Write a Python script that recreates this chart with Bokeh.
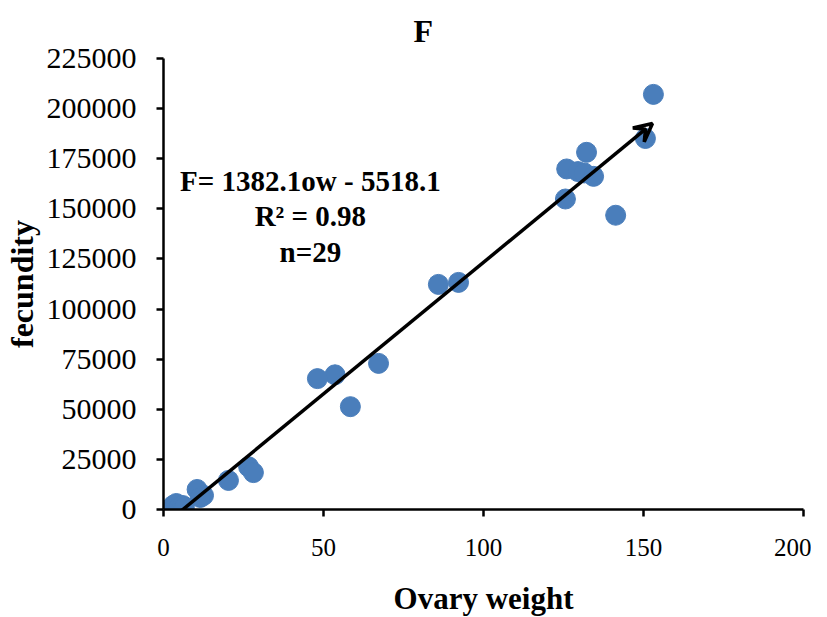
from bokeh.plotting import figure
from bokeh.models import Range1d, Arrow, VeeHead, Label, FixedTicker, NumeralTickFormatter
from bokeh.embed import file_html
from bokeh.resources import INLINE

# Data
ovary_weight = [153.1, 150.6, 132.2, 126.0, 129.5, 131.5, 134.4, 125.6, 141.3,
                92.2, 85.9, 67.2, 53.6, 48.1, 58.4, 26.6, 28.1, 20.3,
                10.5, 12.5, 11.5, 3.0, 3.5, 4.0, 4.5, 5.0, 5.5, 6.0, 6.5]
fecundity = [207100, 185100, 178200, 169900, 168600, 167900, 166200, 154900, 146800,
             113300, 112300, 72900, 67200, 65300, 51300, 21300, 18400, 14500,
             10000, 7000, 6000, 2000, 1000, 3000, 500, 1500, 800, 2000, 1200]
x_ticks = [0, 50, 100, 150, 200]
y_ticks = [0, 25000, 50000, 75000, 100000, 125000, 150000, 175000, 200000, 225000]
trend_x = [5.3, 152.8]
trend_y = [-1000, 192600]
eq_lines = ["F= 1382.1ow - 5518.1", "R\u00b2 = 0.98", "n=29"]

SERIF = "Liberation Serif"

p = figure(frame_width=640, frame_height=451, output_backend="svg", toolbar_location=None,
           x_range=Range1d(0, 200), y_range=Range1d(0, 225000),
           min_border_left=163, min_border_right=8, min_border_top=58,
           min_border_bottom=104)
p.outline_line_color = None
p.xgrid.visible = False
p.ygrid.visible = False

p.title.text = "F"
p.title.text_font = SERIF
p.title.text_font_size = "32px"
p.title.text_font_style = "bold"
p.title.text_color = "black"
p.title.align = "left"
p.title.offset = 250
p.title.standoff = 20

p.scatter(ovary_weight, fecundity, size=20, color="#4a7ebb", line_color="#4a7ebb")

p.add_layout(Arrow(end=VeeHead(size=18, line_width=3.5, line_color="black", fill_color=None),
                   x_start=trend_x[0], y_start=trend_y[0],
                   x_end=trend_x[1], y_end=trend_y[1],
                   line_width=3.5, line_color="black"))

eq_y = [163700, 146200, 128700]
for t, yy in zip(eq_lines, eq_y):
    p.add_layout(Label(x=45.9, y=yy, text=t, text_font=SERIF, text_font_size="29px",
                       text_font_style="bold", text_align="center",
                       text_baseline="middle", text_color="black"))

for ax in (p.xaxis[0], p.yaxis[0]):
    ax.axis_line_color = "black"
    ax.axis_line_width = 2.5
    ax.major_tick_line_color = "black"
    ax.major_tick_line_width = 2.5
    ax.major_tick_out = 7
    ax.major_tick_in = 0
    ax.minor_tick_line_color = None
    ax.major_label_text_font = SERIF
    ax.major_label_text_color = "black"
    ax.axis_label_text_font = SERIF
    ax.axis_label_text_font_style = "bold"
    ax.axis_label_text_color = "black"

p.xaxis.ticker = FixedTicker(ticks=x_ticks)
p.yaxis.ticker = FixedTicker(ticks=y_ticks)
p.yaxis.formatter = NumeralTickFormatter(format="0")
p.xaxis.formatter = NumeralTickFormatter(format="0")
p.xaxis.major_label_text_font_size = "25px"
p.yaxis.major_label_text_font_size = "30px"
p.xaxis.major_label_standoff = 22
p.yaxis.major_label_standoff = 20
p.xaxis.axis_label = "Ovary weight"
p.xaxis.axis_label_text_font_size = "31px"
p.xaxis.axis_label_standoff = 22
p.yaxis.axis_label = "fecundity"
p.yaxis.axis_label_text_font_size = "32px"
p.yaxis.axis_label_standoff = 4

open("out.html", "w").write(file_html(p, INLINE))
